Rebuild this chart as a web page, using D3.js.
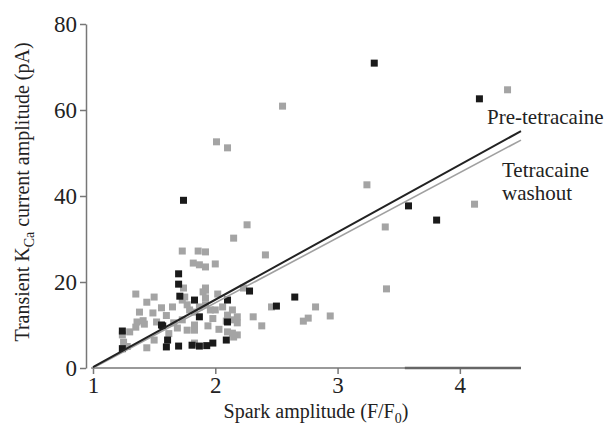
<!DOCTYPE html>
<html>
<head>
<meta charset="utf-8">
<script src="https://cdn.jsdelivr.net/npm/d3@7"></script>
<style>
  body { margin: 0; background: #fff; }
  svg text { font-family: "Liberation Serif", "DejaVu Serif", serif; fill: #222; }
</style>
</head>
<body>
<div id="chart"></div>
<script>
// spark amplitude (F/F0) vs transient KCa current (pA)
const preTetracaine = [
  [1.24, 8.6], [1.24, 4.5], [1.56, 10.0], [1.57, 9.8], [1.61, 6.5], [1.60, 4.9],
  [1.70, 5.1], [1.81, 5.3], [1.87, 5.1], [1.93, 5.2], [1.98, 5.8], [2.09, 6.5],
  [1.70, 21.9], [1.70, 19.5], [1.71, 16.7], [1.74, 39.0], [1.87, 11.9], [1.83, 15.8],
  [2.10, 15.8], [2.10, 10.7], [2.28, 17.9], [2.50, 14.4], [2.65, 16.5],
  [3.30, 70.9], [4.16, 62.6], [3.58, 37.7], [3.81, 34.4]
];

const washout = [
  [4.39, 64.7], [2.55, 60.9], [2.01, 52.6], [2.10, 51.2], [3.24, 42.6], [4.12, 38.1],
  [3.39, 32.8], [2.26, 33.3], [2.15, 30.2], [3.40, 18.4], [2.82, 14.2], [2.76, 11.6],
  [2.72, 10.9], [2.94, 12.1], [2.41, 26.3], [2.46, 14.2], [2.31, 11.9], [2.38, 9.8],
  [1.73, 27.2], [1.86, 27.2], [1.92, 27.0], [1.82, 24.4], [1.87, 24.0], [1.92, 23.5],
  [2.00, 24.2], [1.35, 17.2], [1.50, 16.5], [1.74, 18.6], [1.92, 18.6], [1.90, 17.7],
  [2.02, 17.2], [2.23, 18.6], [1.65, 14.2], [1.49, 12.8], [1.52, 10.7], [1.42, 10.2],
  [1.36, 10.7], [1.35, 9.5], [1.30, 8.4], [1.25, 6.0], [1.24, 7.7], [1.50, 6.5],
  [1.44, 4.7], [1.73, 11.2], [1.69, 9.3], [1.77, 8.8], [1.83, 10.0], [1.83, 8.8],
  [1.94, 9.8], [1.79, 13.5], [1.83, 13.0], [1.87, 14.2], [1.92, 14.7], [1.96, 13.5],
  [2.00, 13.5], [1.92, 16.3], [1.92, 18.1], [2.06, 14.2], [2.10, 12.3], [2.14, 13.5],
  [2.18, 11.9], [2.14, 11.2], [2.09, 10.9], [2.18, 10.5], [2.18, 7.7], [2.14, 8.1],
  [2.15, 7.2], [2.10, 8.4], [1.60, 12.2], [1.77, 14.7], [1.73, 15.8], [1.75, 16.5],
  [1.44, 15.3], [1.41, 11.0], [1.83, 5.8], [1.28, 5.0], [1.38, 13.0], [1.62, 8.0],
  [1.56, 14.0], [1.98, 11.5], [2.03, 9.0], [1.66, 10.5]
];

// regression lines: [x, y] at both ends
const fitPre = [[1.0, 0.2], [4.5, 55.1]];
const fitWash = [[1.0, 0.0], [4.5, 53.0]];

const xTicks = [1, 2, 3, 4];
const yTicks = [0, 20, 40, 60, 80];

const width = 604, height = 428;
const svg = d3.select('#chart').append('svg')
  .attr('width', width)
  .attr('height', height);

const x = d3.scaleLinear().domain([1, 4.5]).range([93, 521]);
const y = d3.scaleLinear().domain([0, 80]).range([368, 24]);

const axisColor = '#777';

// y axis
const yAxis = svg.append('g')
  .attr('transform', 'translate(86,0)')
  .call(d3.axisLeft(y).tickValues(yTicks).tickSize(6).tickSizeOuter(0).tickPadding(3));
yAxis.select('.domain').attr('stroke', axisColor).attr('stroke-width', 1.5);
yAxis.selectAll('.tick line').attr('stroke', axisColor).attr('stroke-width', 1.5);
yAxis.selectAll('.tick text').attr('font-size', 23).attr('fill', '#222')
  .style('font-family', '"Liberation Serif", serif');

// x axis
const xAxis = svg.append('g')
  .attr('transform', 'translate(0,368)')
  .call(d3.axisBottom(x).tickValues(xTicks).tickSize(6).tickSizeOuter(0).tickPadding(3).tickFormat(d3.format('d')));
xAxis.select('.domain').attr('d', `M${x(0.985)},0H${x(4.5)}`)
  .attr('stroke', axisColor).attr('stroke-width', 1.5);
xAxis.selectAll('.tick line').attr('stroke', axisColor).attr('stroke-width', 1.5);
xAxis.selectAll('.tick text').attr('font-size', 23).attr('fill', '#222')
  .style('font-family', '"Liberation Serif", serif');
// darker segment of the baseline on the right
svg.append('line')
  .attr('x1', x(3.55)).attr('x2', x(4.5))
  .attr('y1', 368).attr('y2', 368)
  .attr('stroke', '#666').attr('stroke-width', 2.5);

// axis titles
const yTitle = svg.append('text')
  .attr('transform', 'translate(29,192) rotate(-90)')
  .attr('text-anchor', 'middle')
  .attr('font-size', 20);
yTitle.append('tspan').text('Transient K');
yTitle.append('tspan').attr('font-size', 14).attr('dy', 5).text('Ca');
yTitle.append('tspan').attr('dy', -5).text(' current amplitude (pA)');

const xTitle = svg.append('text')
  .attr('x', 316).attr('y', 418)
  .attr('text-anchor', 'middle')
  .attr('font-size', 20);
xTitle.append('tspan').text('Spark amplitude (F/F');
xTitle.append('tspan').attr('font-size', 14).attr('dy', 5).text('0');
xTitle.append('tspan').attr('dy', -5).text(')');

// points
const size = 7;
function drawSquares(data, color) {
  svg.append('g').selectAll('rect')
    .data(data)
    .enter()
    .append('rect')
    .attr('x', d => x(d[0]) - size / 2)
    .attr('y', d => y(d[1]) - size / 2)
    .attr('width', size)
    .attr('height', size)
    .attr('fill', color);
}
drawSquares(washout, '#a4a4a4');
drawSquares(preTetracaine, '#1a1a1a');

// fit lines
const line = d3.line().x(d => x(d[0])).y(d => y(d[1]));
svg.append('path').attr('d', line(fitWash))
  .attr('fill', 'none').attr('stroke', '#a0a0a0').attr('stroke-width', 1.6);
svg.append('path').attr('d', line(fitPre))
  .attr('fill', 'none').attr('stroke', '#222').attr('stroke-width', 2);

// line labels
svg.append('text').attr('x', 487).attr('y', 124).attr('font-size', 21).text('Pre-tetracaine');
svg.append('text').attr('x', 502).attr('y', 177).attr('font-size', 21).text('Tetracaine');
svg.append('text').attr('x', 502).attr('y', 200).attr('font-size', 21).text('washout');
</script>
</body>
</html>
